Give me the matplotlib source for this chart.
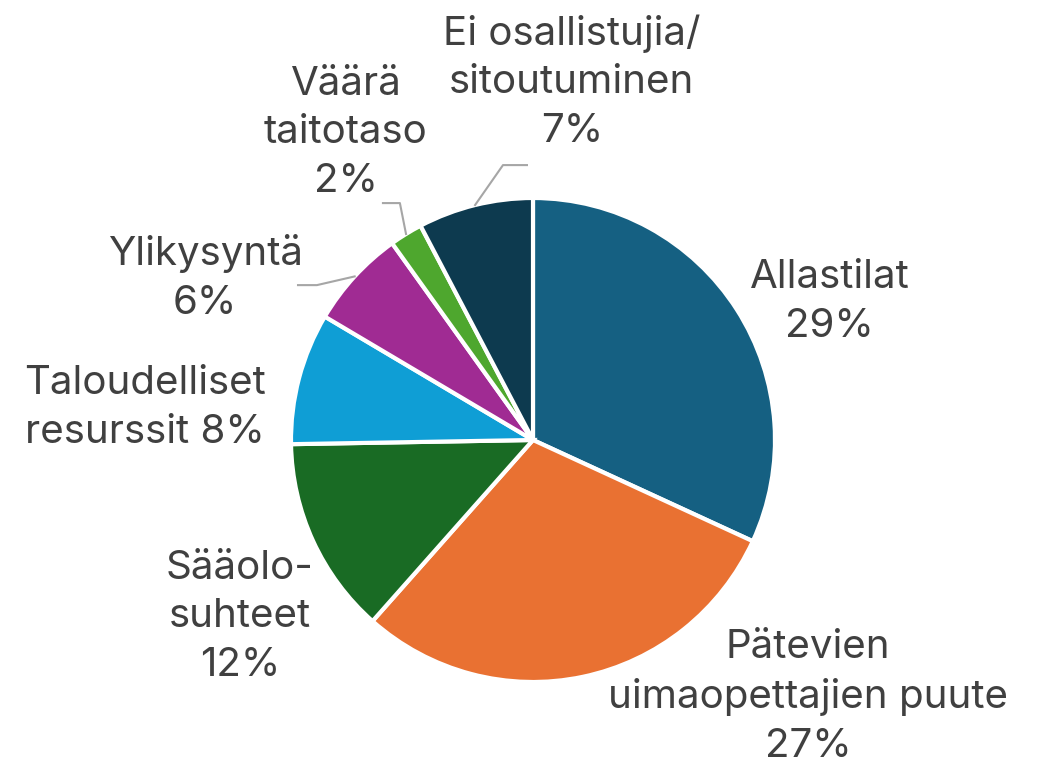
import numpy as np
import matplotlib
matplotlib.use("Agg")
from matplotlib import pyplot as plt

plt.rcParams['font.family'] = ['Inter', 'DejaVu Sans']

# ------------------------------------------------------------
# data: wedge values (the labels show the same numbers with %)
categories = ['Allastilat', 'Pätevien\nuimaopettajien puute', 'Sääolo-\nsuhteet',
              'Taloudelliset\nresurssit', 'Ylikysyntä', 'Väärä\ntaitotaso',
              'Ei osallistujia/\nsitoutuminen']
values = [29, 27, 12, 8, 6, 2, 7]
colors = ['#156082', '#E97132', '#196B24', '#0F9ED5', '#A02B93', '#4EA72E', '#0D3A4F']

# label layout (data units, pie radius = 1)
label_xy = [(1.227, 0.570), (1.136, -1.062), (-1.211, -0.731), (-1.603, 0.132),
            (-1.355, 0.669), (-0.773, 1.269), (0.161, 1.479)]
label_sep = ['\n', '\n', '\n', ' ', '\n', '\n', '\n']
# leader lines: (elbow, end) for small slices
leaders = {6: [(-0.124, 1.136), (-0.025, 1.136)],
           5: [(-0.55, 0.979), (-0.62, 0.979)],
           4: [(-0.893, 0.640), (-0.971, 0.640)]}

fig = plt.figure(figsize=(10.45, 7.71), dpi=100)
ax = fig.add_axes([0, 0, 1, 1])

wedges, _ = ax.pie(values, colors=colors, startangle=90, counterclock=False,
                   radius=1.0, wedgeprops=dict(edgecolor='white', linewidth=3))

ax.set_xlim(-533 / 242, (1045 - 533) / 242)
ax.set_ylim(-(771 - 440) / 242, 440 / 242)
ax.set_aspect('equal')
ax.axis('off')

for i, (cat, v) in enumerate(zip(categories, values)):
    x, y = label_xy[i]
    ax.text(x, y, '%s%s%d%%' % (cat, label_sep[i], v), ha='center', va='center',
            fontsize=29, color='#404040', linespacing=1.4)

for i, pts in leaders.items():
    w = wedges[i]
    ang = np.deg2rad((w.theta1 + w.theta2) / 2)
    xs = [np.cos(ang)] + [p[0] for p in pts]
    ys = [np.sin(ang)] + [p[1] for p in pts]
    ax.plot(xs, ys, color='#A6A6A6', lw=1.5)

fig.savefig('out.png', dpi=100)
